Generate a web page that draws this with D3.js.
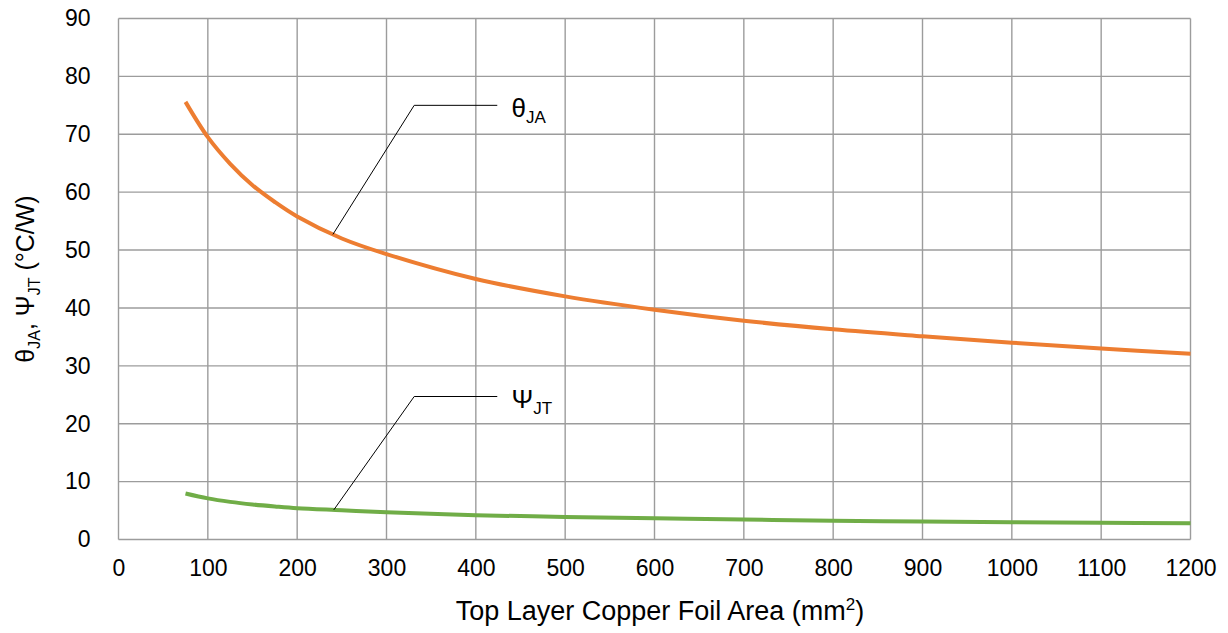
<!DOCTYPE html>
<html>
<head>
<meta charset="utf-8">
<script src="https://cdn.jsdelivr.net/npm/d3@7"></script>
<style>
  html, body { margin: 0; padding: 0; background: #fff; }
  svg { display: block; font-family: "Liberation Sans", Arial, sans-serif; }
</style>
</head>
<body>
<div id="chart"></div>
<script>
"use strict";

/* ── Data ── */
const areaMm2   = [75, 100, 125, 150, 175, 200, 250, 300, 400, 500, 600, 700, 800, 900, 1000, 1100, 1200];
const thetaJA   = [75.6, 69.5, 64.9, 61.2, 58.3, 55.8, 52.0, 49.3, 45.0, 42.0, 39.7, 37.8, 36.3, 35.1, 34.0, 33.0, 32.1];
const psiJT     = [7.95, 7.1, 6.5, 6.05, 5.7, 5.4, 5.05, 4.7, 4.2, 3.9, 3.65, 3.45, 3.25, 3.1, 3.0, 2.9, 2.8];
const xTicks    = [0, 100, 200, 300, 400, 500, 600, 700, 800, 900, 1000, 1100, 1200];
const yTicks    = [0, 10, 20, 30, 40, 50, 60, 70, 80, 90];

/* callouts: anchor on curve, elbow, end of leader, label position (data units) */
const callouts = [
  { main: "θ", sub: "JA", anchor: [240, 52.7], elbow: [331, 75.0], end: [424, 75.0], label: [440, 73.0] },
  { main: "Ψ", sub: "JT", anchor: [241, 5.12], elbow: [331, 24.7], end: [424, 24.7], label: [440, 22.7] }
];

/* ── Dimensions ── */
const W = 1228, H = 633;
const plot = { left: 118.5, right: 1190.5, top: 18.5, bottom: 539.5 };

const svg = d3.select("#chart").append("svg")
  .attr("width", W).attr("height", H);

const x = d3.scaleLinear().domain([0, 1200]).range([plot.left, plot.right]);
const y = d3.scaleLinear().domain([0, 90]).range([plot.bottom, plot.top]);

/* ── Gridlines ── */
const grid = svg.append("g").attr("stroke", "#9c9c9c").attr("stroke-width", 1.4);
grid.selectAll(".vg").data(xTicks).join("line")
  .attr("x1", d => x(d)).attr("x2", d => x(d))
  .attr("y1", plot.top).attr("y2", plot.bottom);
grid.selectAll(".hg").data(yTicks).join("line")
  .attr("x1", plot.left).attr("x2", plot.right)
  .attr("y1", d => y(d)).attr("y2", d => y(d));

/* ── Axes (labels only) ── */
svg.append("g")
  .attr("transform", `translate(0,${plot.bottom})`)
  .call(d3.axisBottom(x).tickValues(xTicks).tickSize(0).tickPadding(20).tickFormat(d3.format("d")))
  .call(g => {
    g.select(".domain").remove();
    g.selectAll(".tick text").attr("fill", "#000").attr("font-size", "23px")
      .attr("font-family", "Liberation Sans, Arial, sans-serif");
  });

svg.append("g")
  .attr("transform", `translate(${plot.left},0)`)
  .call(d3.axisLeft(y).tickValues(yTicks).tickSize(0).tickPadding(28).tickFormat(d3.format("d")))
  .call(g => {
    g.select(".domain").remove();
    g.selectAll(".tick text").attr("fill", "#000").attr("font-size", "23px")
      .attr("font-family", "Liberation Sans, Arial, sans-serif");
  });

/* ── Series ── */
const line = d3.line()
  .x((d, i) => x(areaMm2[i]))
  .y(d => y(d))
  .curve(d3.curveCatmullRom.alpha(0.5));

svg.append("path").datum(thetaJA)
  .attr("d", line).attr("fill", "none")
  .attr("stroke", "#ED7D31").attr("stroke-width", 4);

svg.append("path").datum(psiJT)
  .attr("d", line).attr("fill", "none")
  .attr("stroke", "#70AD47").attr("stroke-width", 4);

/* ── Callouts ── */
callouts.forEach(c => {
  svg.append("polyline")
    .attr("points", [c.anchor, c.elbow, c.end].map(p => `${x(p[0])},${y(p[1])}`).join(" "))
    .attr("fill", "none").attr("stroke", "#000").attr("stroke-width", 1);
  const t = svg.append("text")
    .attr("x", x(c.label[0])).attr("y", y(c.label[1]))
    .attr("font-size", "26px").attr("fill", "#000");
  t.append("tspan").text(c.main);
  t.append("tspan").attr("font-size", "17px").attr("dy", 6).text(c.sub);
});

/* ── Axis titles ── */
const xt = svg.append("text")
  .attr("x", 660).attr("y", 620)
  .attr("text-anchor", "middle")
  .attr("font-size", "27px").attr("fill", "#000");
xt.append("tspan").text("Top Layer Copper Foil Area (mm");
xt.append("tspan").attr("font-size", "17px").attr("dy", -10).text("2");
xt.append("tspan").attr("dy", 10).text(")");

const yt = svg.append("text")
  .attr("transform", `translate(34,${(plot.top + plot.bottom) / 2}) rotate(-90)`)
  .attr("text-anchor", "middle")
  .attr("font-size", "25px").attr("fill", "#000");
yt.append("tspan").text("θ");
yt.append("tspan").attr("font-size", "16px").attr("dy", 6).text("JA");
yt.append("tspan").attr("dy", -6).text(", Ψ");
yt.append("tspan").attr("font-size", "16px").attr("dy", 6).text("JT");
yt.append("tspan").attr("dy", -6).text(" (°C/W)");
</script>
</body>
</html>
